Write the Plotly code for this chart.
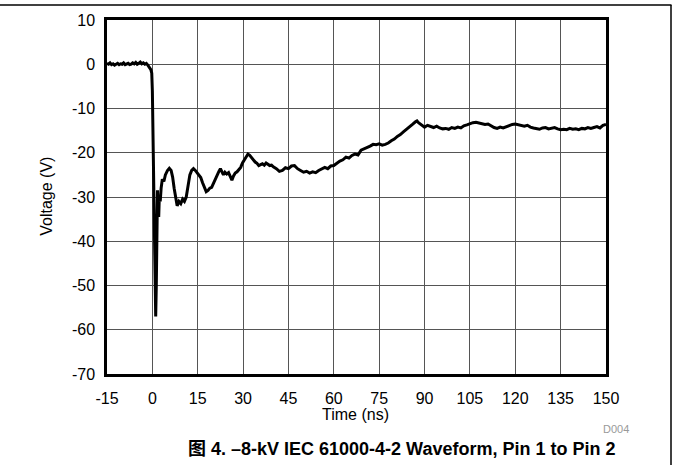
import plotly.graph_objects as go

# ---- data ----
time_ns = [
    -15, -14.5, -14, -13.5, -13, -12.5, -12, -11.5, -11, -10.5, -10, -9.5, -9, -8.5, -8, -7.5,
    -7, -6.5, -6, -5.5, -5, -4.5, -4, -3.5, -3, -2.5, -2, -1.5, -1, -0.5, -0.2, 0, 0.3, 0.6,
    0.9, 1.1, 1.3, 1.5, 1.7, 1.9, 2.1, 2.3, 2.6, 2.9, 3.3, 3.8, 4.3, 5.0, 5.6, 6.2, 6.7, 7.2,
    7.7, 8.2, 8.8, 9.4, 10, 10.6, 11.2, 11.8, 12.4, 13, 13.6, 14.2, 14.8, 15.4, 16, 16.6, 17.2,
    17.8, 18.4, 19, 19.6, 20.2, 20.8, 21.4, 22, 22.5, 23, 23.5, 24, 24.6, 25.2, 25.8, 26.3,
    26.8, 27.4, 28, 28.6, 29.2, 29.8, 30.4, 31, 31.6, 32.2, 32.8, 33.4, 34, 34.6, 35.2, 35.8,
    36.4, 37, 37.6, 38.2, 38.8, 39.4, 40, 41, 42, 43, 44, 45, 46, 47, 48, 49, 50, 51, 52, 53,
    54, 55, 56, 57, 58, 59, 60, 61, 62, 63, 64, 65, 66, 67, 68, 69, 70, 71, 72, 73, 74, 75,
    76, 77, 78, 79, 80, 81, 82, 83, 84, 85, 86, 87, 87.5, 88, 89, 90, 91, 92, 93, 94, 95, 96,
    97, 98, 99, 100, 101, 102, 103, 104, 105, 106, 107, 108, 109, 110, 111, 112, 113, 114,
    115, 116, 117, 118, 119, 120, 121, 122, 123, 124, 125, 126, 127, 128, 129, 130, 131, 132,
    133, 134, 135, 136, 137, 138, 139, 140, 141, 142, 143, 144, 145, 146, 147, 148, 149, 150,
]
voltage_v = [
    0.2, 0.0, 0.3, -0.1, 0.1, -0.2, 0.0, 0.2, -0.1, 0.1, 0.0, 0.3, -0.1, 0.1, 0.2, -0.1,
    0.0, 0.3, 0.1, 0.4, 0.0, 0.2, 0.5, 0.1, 0.3, 0.0, 0.2, -0.2, -0.8, -1.2, -2.0, -6.0, -20, -40,
    -54, -57, -50, -38, -28.5, -33, -34.5, -30, -31, -28, -26, -26.5, -25, -24, -23.5, -24, -25.5, -28,
    -30.5, -32, -31, -31.5, -30.5, -31, -30, -27.5, -25, -24, -23.6, -24, -24.5, -25, -25.6, -26.8, -28,
    -28.8, -28.5, -28, -27.8, -26.8, -26, -25, -24.2, -23.6, -24.5, -25, -24.4, -24.8, -24.5, -25.5, -26.2,
    -25.3, -24.6, -24.3, -23.8, -23.3, -22.3, -21.6, -20.8, -20.3, -20.6, -21.2, -21.6, -22.1, -22.4, -22.9, -22.7,
    -22.5, -22.8, -22.3, -22.6, -22.9, -22.8, -23.2, -23.6, -24.2, -24.0, -23.4, -23.6, -23.0, -22.9, -23.6, -24.0, -24.4, -24.2, -24.6, -24.3,
    -24.5, -24.0, -23.7, -23.3, -23.6, -23.0, -22.9, -22.3, -21.9, -21.6, -21.0, -21.2, -20.6, -20.3, -20.5, -19.4, -19.1, -18.9, -18.5, -18.1, -18.2, -18.0,
    -18.3, -18.1, -17.8, -17.3, -16.9, -16.3, -15.9, -15.3, -14.8, -14.2, -13.6, -13.0, -12.8, -13.2, -13.8, -14.2, -13.8, -14.1, -14.3, -14.0, -14.4, -14.6,
    -14.5, -14.7, -14.3, -14.5, -14.2, -14.4, -13.9, -13.7, -13.4, -13.2, -13.1, -13.3, -13.4, -13.6, -13.5, -14.0, -14.3, -14.5,
    -14.2, -14.4, -14.1, -13.9, -13.6, -13.5, -13.7, -13.8, -14.0, -13.8, -14.2, -14.4, -14.5, -14.7, -14.4, -14.3, -14.6, -14.5,
    -14.3, -14.6, -14.8, -14.7, -14.8, -14.5, -14.7, -14.6, -14.8, -14.5, -14.6, -14.3, -14.5, -14.3, -14.1, -14.4, -13.8, -13.6,
]
x_ticks = [-15, 0, 15, 30, 45, 60, 75, 90, 105, 120, 135, 150]
y_ticks = [10, 0, -10, -20, -30, -40, -50, -60, -70]
x_title = "Time (ns)"
y_title = "Voltage (V)"
caption = "图 4. –8-kV IEC 61000-4-2 Waveform, Pin 1 to Pin 2"
code_label = "D004"

# ---- layout geometry ----
W, H = 673, 465
L, R, T, B = 107, 606, 20, 374.5
pw, ph = R - L, B - T

def px(xp):
    return (xp - L) / pw

def py(yp):
    return (B - yp) / ph

FONT = "Liberation Sans, Arial, Noto Sans CJK SC, sans-serif"

fig = go.Figure()
fig.add_trace(go.Scatter(
    x=time_ns, y=voltage_v, mode="lines",
    line=dict(color="black", width=3),
    showlegend=False, hoverinfo="skip",
))

axis_common = dict(
    showgrid=True, gridcolor="#555555", gridwidth=1,
    showline=True, linecolor="black", linewidth=2.5, mirror=True,
    zeroline=False,
    ticks="outside", tickcolor="rgba(0,0,0,0)",
    tickfont=dict(family=FONT, size=16, color="black"),
)

fig.update_xaxes(range=[-15, 150], tickvals=x_ticks, ticktext=[str(v) for v in x_ticks],
                 ticklen=8, **axis_common)
fig.update_yaxes(range=[-70, 10], tickvals=y_ticks, ticktext=[str(v) for v in y_ticks],
                 ticklen=6, **axis_common)

annotations = [
    dict(text=x_title, x=px(355), y=py(415), xref="paper", yref="paper",
         showarrow=False, font=dict(family=FONT, size=16, color="black"),
         xanchor="center", yanchor="middle"),
    dict(text=y_title, x=px(47), y=py(197), xref="paper", yref="paper", textangle=-90,
         showarrow=False, font=dict(family=FONT, size=16, color="black"),
         xanchor="center", yanchor="middle"),
    dict(text=code_label, x=px(631), y=py(430), xref="paper", yref="paper",
         showarrow=False, font=dict(family=FONT, size=11, color="#999999"),
         xanchor="right", yanchor="middle"),
    dict(text="<b>" + caption + "</b>", x=px(402), y=py(450), xref="paper", yref="paper",
         showarrow=False, font=dict(family=FONT, size=18, color="black"),
         xanchor="center", yanchor="middle"),
]

shapes = [
    dict(type="line", xref="paper", yref="paper", x0=px(0), x1=px(671.5), y0=py(5), y1=py(5),
         line=dict(color="black", width=1.5)),
    dict(type="line", xref="paper", yref="paper", x0=px(671), x1=px(671), y0=py(5), y1=py(466),
         line=dict(color="black", width=1.5)),
]

fig.update_layout(
    width=W, height=H,
    margin=dict(l=L, r=W - R, t=T, b=H - B, autoexpand=False),
    plot_bgcolor="white", paper_bgcolor="white",
    annotations=annotations, shapes=shapes,
    font=dict(family=FONT),
)

fig.write_html("out.html")
